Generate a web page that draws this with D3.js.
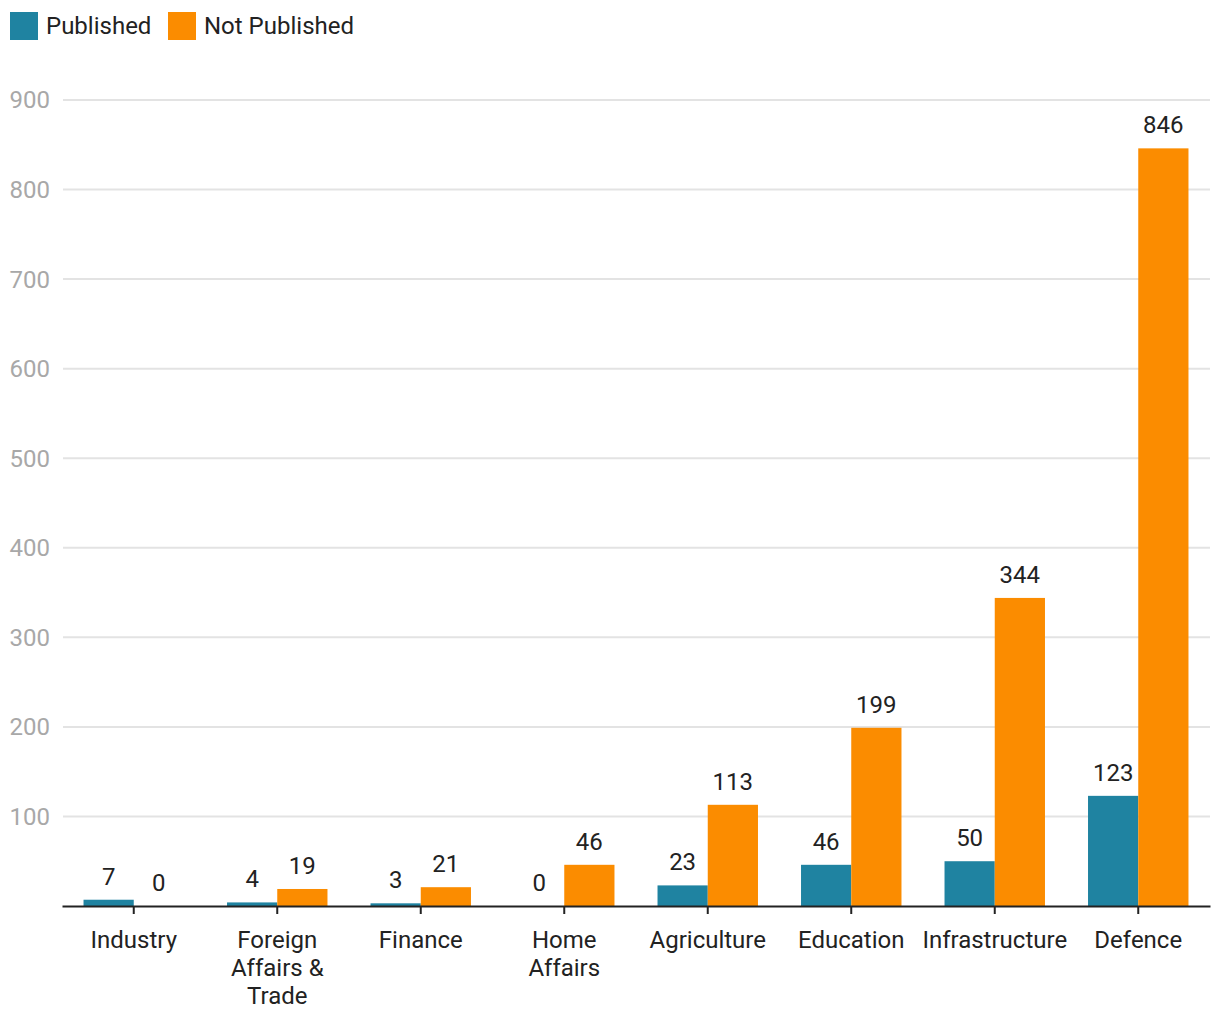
<!DOCTYPE html>
<html><head><meta charset="utf-8">
<script src="https://cdn.jsdelivr.net/npm/d3@7"></script>
<style>body{margin:0;background:#fff;font-family:Roboto,"Noto Sans",sans-serif;}</style>
</head><body><svg id="c" width="1220" height="1020"></svg>
<script>
const categories = ["Industry","Foreign Affairs & Trade","Finance","Home Affairs","Agriculture","Education","Infrastructure","Defence"];
const seriesNames = ["Published","Not Published"];
const published = [7,4,3,0,23,46,50,123];
const notPublished = [0,19,21,46,113,199,344,846];
const yTicks = [100,200,300,400,500,600,700,800,900];
const colors = ["#1f83a1","#fb8c00"];

const svg = d3.select("#c");
const font = "Roboto, 'Noto Sans', sans-serif";
const fs = 24;
const x0 = d3.scaleBand().domain(categories).range([62,1210]).paddingInner(0.3).paddingOuter(0.15);
const x1 = d3.scaleBand().domain(seriesNames).range([0,x0.bandwidth()]).padding(0);
const y = d3.scaleLinear().domain([0,900]).range([906,100]);

// gridlines
svg.append("g").selectAll("line").data(yTicks).join("line")
  .attr("x1",63).attr("x2",1210).attr("y1",d=>y(d)).attr("y2",d=>y(d))
  .attr("stroke","#e3e3e3").attr("stroke-width",2);
svg.append("g").selectAll("text").data(yTicks).join("text")
  .attr("x",50).attr("y",d=>y(d)).attr("dy","0.35em").attr("text-anchor","end")
  .attr("font-family",font).attr("font-size",fs).attr("fill","#a8a8a8").text(d=>d);

const rows = categories.map((c,i)=>({cat:c, vals:[{s:seriesNames[0],v:published[i]},{s:seriesNames[1],v:notPublished[i]}]}));
const g = svg.append("g").selectAll("g").data(rows).join("g").attr("transform",d=>`translate(${x0(d.cat)},0)`);
g.selectAll("rect").data(d=>d.vals).join("rect")
  .attr("x",d=>x1(d.s)).attr("width",x1.bandwidth())
  .attr("y",d=>y(d.v)).attr("height",d=>y(0)-y(d.v))
  .attr("fill",(d,i)=>colors[i]);
g.selectAll("text").data(d=>d.vals).join("text")
  .attr("x",d=>x1(d.s)+x1.bandwidth()/2).attr("y",d=>y(d.v)-15)
  .attr("text-anchor","middle").attr("font-family",font).attr("font-size",fs).attr("fill","#222")
  .text(d=>d.v);

// x axis
const xAxis = d3.axisBottom(x0).tickSize(8).tickSizeOuter(0).tickPadding(10);
const ax = svg.append("g").attr("transform","translate(0,906)").call(xAxis);
ax.select(".domain").attr("stroke","#222").attr("stroke-width",2);
ax.selectAll(".tick line").attr("stroke","#222").attr("stroke-width",2);
ax.selectAll(".tick text").attr("font-family",font).attr("font-size",fs).attr("fill","#222")
  .each(function(d){
    const t = d3.select(this); const words = d.split(" "); t.text(null);
    let line=[]; let ts = t.append("tspan").attr("x",0).attr("dy","0.71em");
    words.forEach(w=>{ line.push(w); ts.text(line.join(" "));
      if(ts.node().getComputedTextLength()>135 && line.length>1){ line.pop(); ts.text(line.join(" ")); line=[w];
        ts = t.append("tspan").attr("x",0).attr("dy","28px").text(w);} });
  }).attr("y",25);

// legend
const lg = svg.append("g");
const lx = [10,168];
seriesNames.forEach((s,i)=>{
  lg.append("rect").attr("x",lx[i]).attr("y",12).attr("width",28).attr("height",28).attr("fill",colors[i]);
  lg.append("text").attr("x",lx[i]+36).attr("y",26).attr("dy","0.35em").attr("font-family",font).attr("font-size",fs).attr("fill","#222").text(s);
});
</script></body></html>
